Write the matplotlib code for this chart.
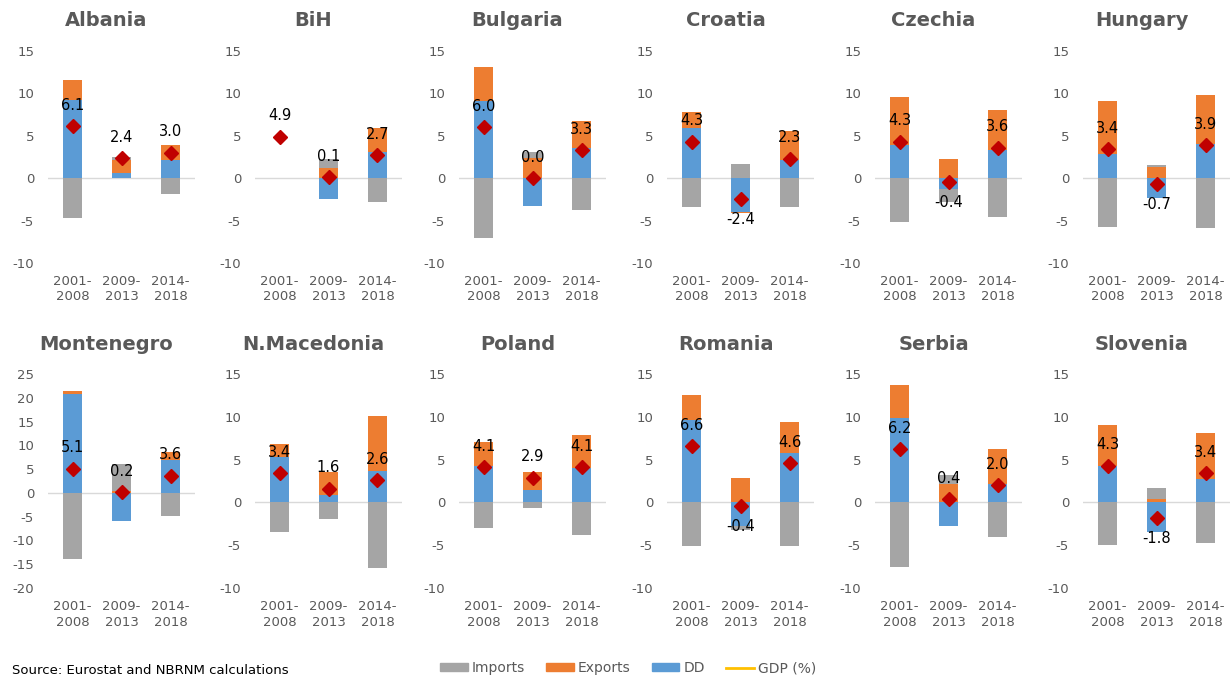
import numpy as np
import matplotlib

matplotlib.use("Agg")
import matplotlib.pyplot as plt
from matplotlib.lines import Line2D
from matplotlib.patches import Patch

plt.rcParams["axes.unicode_minus"] = False

# contributions to GDP growth, percentage points, per period
periods = ["2001-\n2008", "2009-\n2013", "2014-\n2018"]
countries = [
    "Albania", "BiH", "Bulgaria", "Croatia", "Czechia", "Hungary",
    "Montenegro", "N.Macedonia", "Poland", "Romania", "Serbia", "Slovenia",
]
dd = [
    [9.2, 0.6, 2.15], [np.nan, -2.5, 3.1], [9.1, -3.25, 3.6], [5.9, -4.0, 2.15],
    [3.9, -1.25, 3.35], [2.9, -2.3, 4.0], [20.8, -5.85, 7.0], [5.3, 0.9, 3.65],
    [4.2, 1.4, 4.05], [9.6, -2.7, 5.75], [9.9, -2.7, 2.2], [4.25, -3.5, 2.75],
]
exports = [
    [2.4, 1.6, 1.75], [np.nan, 1.25, 2.8], [4.0, 2.4, 3.2], [1.95, -0.15, 3.45],
    [5.65, 2.3, 4.75], [6.15, 1.35, 5.8], [0.7, 0.5, 1.5], [1.55, 2.6, 6.5],
    [2.9, 2.1, 3.8], [2.9, 2.85, 3.7], [3.8, 2.1, 4.05], [4.85, 0.35, 5.4],
]
imports = [
    [-4.7, 0.25, -1.9], [np.nan, 1.05, -2.8], [-7.1, 0.65, -3.8], [-3.4, 1.7, -3.4],
    [-5.2, -1.55, -4.55], [-5.75, 0.2, -5.9], [-13.8, 5.5, -4.9], [-3.5, -1.9, -7.7],
    [-3.0, -0.6, -3.75], [-5.05, -0.55, -5.05], [-7.5, 1.15, -4.1], [-4.95, 1.35, -4.8],
]
gdp = [
    [6.1, 2.4, 3.0], [4.9, 0.1, 2.7], [6.0, 0.0, 3.3], [4.3, -2.4, 2.3],
    [4.3, -0.4, 3.6], [3.4, -0.7, 3.9], [5.1, 0.2, 3.6], [3.4, 1.6, 2.6],
    [4.1, 2.9, 4.1], [6.6, -0.4, 4.6], [6.2, 0.4, 2.0], [4.3, -1.8, 3.4],
]

C_IMP = "#A5A5A5"
C_EXP = "#ED7D31"
C_DD = "#5B9BD5"
C_GDP = "#C00000"
GREY = "#595959"

W, H = 1230, 679
fig = plt.figure(figsize=(W / 100, H / 100), dpi=100)

lefts = [48, 255, 459, 667, 875, 1083]
row_box = [(51, 263), (374, 588)]
title_y = [20, 345]
x = np.arange(len(periods))

for i, name in enumerate(countries):
    r, c = divmod(i, 6)
    top, bot = row_box[r]
    ax = fig.add_axes([lefts[c] / W, 1 - bot / H, 147 / W, (bot - top) / H])

    # Excel-style stacking: positives up from 0, negatives down from 0
    pos = np.zeros(3)
    neg = np.zeros(3)
    for vals, col in [(dd[i], C_DD), (exports[i], C_EXP), (imports[i], C_IMP)]:
        v = np.array(vals, dtype=float)
        vz = np.nan_to_num(v)
        base = np.where(vz >= 0, pos, neg)
        ax.bar(x, v, 0.39, bottom=base, color=col, zorder=2)
        pos += np.where(vz >= 0, vz, 0)
        neg += np.where(vz < 0, vz, 0)

    g = gdp[i]
    ax.plot(x, g, ls="none", marker="D", ms=7, color=C_GDP, zorder=4)
    for xi, gv in zip(x, g):
        off = 15 if gv >= 0 else -15
        ax.annotate(f"{gv:.1f}", (xi, gv), xytext=(0, off), textcoords="offset points",
                    ha="center", va="center", fontsize=10.5, color="black", zorder=5)

    ax.axhline(0, color="#D9D9D9", lw=1, zorder=1)
    if name == "Montenegro":
        ax.set_ylim(-20, 25)
        ax.set_yticks(np.arange(-20, 26, 5))
    else:
        ax.set_ylim(-10, 15)
        ax.set_yticks(np.arange(-10, 16, 5))
    ax.set_xlim(-0.5, 2.5)
    ax.set_xticks(x)
    ax.set_xticklabels(periods)
    ax.tick_params(length=0, labelsize=9.5, colors=GREY)
    ax.tick_params(axis="x", pad=9)
    ax.tick_params(axis="y", pad=10)
    for s in ax.spines.values():
        s.set_visible(False)

    fig.text((lefts[c] + 147 / 2 - 15) / W, 1 - title_y[r] / H, name,
             ha="center", va="center", fontsize=14, fontweight="bold", color=GREY)

handles = [
    Patch(color=C_IMP, label="Imports"),
    Patch(color=C_EXP, label="Exports"),
    Patch(color=C_DD, label="DD"),
    Line2D([], [], color="#FFC000", lw=2, label="GDP (%)"),
]
fig.legend(handles=handles, loc="center", bbox_to_anchor=(628 / W, 1 - 668 / H), ncol=4,
           frameon=False, fontsize=10, labelcolor=GREY, handlelength=2.0, handleheight=0.45,
           handletextpad=0.3, columnspacing=1.5)

fig.text(12 / W, 1 - 664 / H, "Source: Eurostat and NBRNM calculations",
         ha="left", va="top", fontsize=9.5, color="black")

fig.savefig("out.png", dpi=100)
